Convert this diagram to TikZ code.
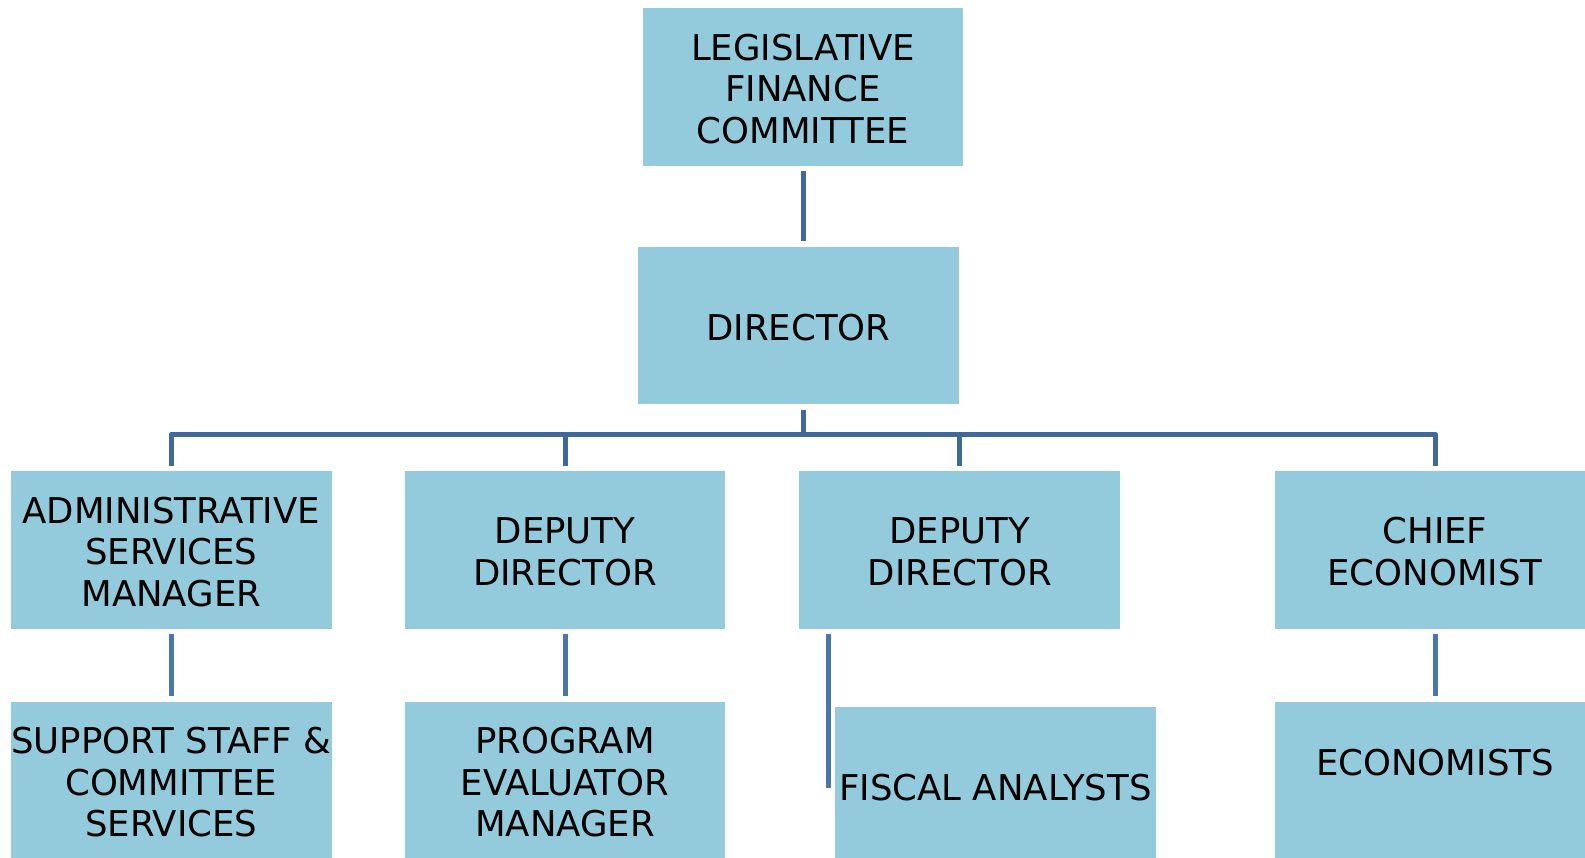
\documentclass[tikz,border=0pt]{standalone}
\usepackage{fontspec}
\setmainfont{DejaVu Sans}
\usetikzlibrary{calc}
\definecolor{boxfill}{RGB}{147,203,220}
\definecolor{linetop}{RGB}{64,104,155}
\definecolor{linelow}{RGB}{74,118,172}
\tikzset{
  plainbox/.style={rectangle, fill=boxfill, draw=none, inner sep=0pt, outer sep=0pt,
    minimum width=320.5pt, minimum height=157.5pt},
  lbl/.style={inner sep=0pt, align=center, yshift=-1.8pt,
    font=\fontsize{35.5}{41.7}\selectfont, text=black},
  conntop/.style={draw=linetop, line width=5pt, line join=round},
  connlow/.style={draw=linelow, line width=5pt},
  gap/.style={shorten <=5.3pt, shorten >=5.3pt}
}
\begin{document}
\begin{tikzpicture}[x=1pt,y=-1pt]
\useasboundingbox (0,0) rectangle (1585,858);
\clip (0,0) rectangle (1585,858);
\fill[white] (0,0) rectangle (1585,858);
% top
\node[plainbox, label={[lbl]center:{LEGISLATIVE\\FINANCE\\COMMITTEE}}] (lfc) at (803,87) {};
\node[plainbox, label={[lbl]center:{DIRECTOR}}] (dir) at (798.5,325.5) {};
% middle row
\node[plainbox, label={[lbl]center:{ADMINISTRATIVE\\SERVICES\\MANAGER}}] (asm) at (171.3,550) {};
\node[plainbox, label={[lbl]center:{DEPUTY\\DIRECTOR}}] (dd1) at (565,550) {};
\node[plainbox, label={[lbl]center:{DEPUTY\\DIRECTOR}}] (dd2) at (959.7,550) {};
\node[plainbox, label={[lbl]center:{CHIEF\\ECONOMIST}}] (chief) at (1435,550) {};
% bottom row
\node[plainbox, label={[lbl]center:{SUPPORT STAFF \&\\COMMITTEE\\SERVICES}}] (ss) at (171.3,780.5) {};
\node[plainbox, label={[lbl]center:{PROGRAM\\EVALUATOR\\MANAGER}}] (pem) at (565,780.5) {};
\node[plainbox, label={[lbl]center:{FISCAL ANALYSTS}}] (fa) at (995.5,786) {};
\node[plainbox, label={[lbl, yshift=19.5pt]center:{ECONOMISTS}}] (eco) at (1435,780.5) {};
% connectors
\coordinate (bus) at (lfc.south |- 0,434);
\draw[conntop, gap] (lfc.south) -- (lfc.south |- dir.north);
\draw[conntop, shorten <=5.3pt] (lfc.south |- dir.south) -- (bus);
\draw[conntop, gap] (asm.north) |- (bus) -| (chief.north);
\draw[conntop, shorten <=5.3pt] (dd1.north) -- (dd1.north |- bus);
\draw[conntop, shorten <=5.3pt] (dd2.north) -- (dd2.north |- bus);
\draw[connlow, gap] (asm.south) -- (ss.north);
\draw[connlow, gap] (dd1.south) -- (pem.north);
\draw[connlow, gap] (chief.south) -- (eco.north);
\coordinate (faend) at ($(fa.west)+(-6.5,2)$);
\draw[connlow, shorten <=5.3pt] (faend |- dd2.south) -- (faend);
\end{tikzpicture}
\end{document}
